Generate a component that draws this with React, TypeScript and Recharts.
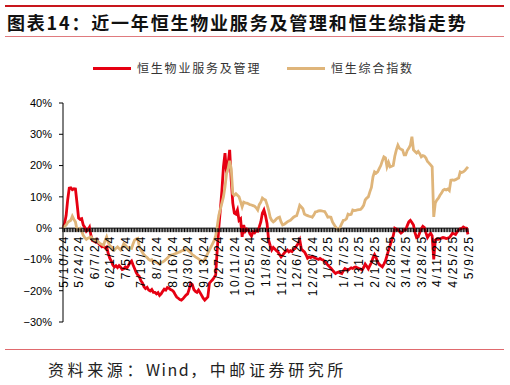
import React from "react";
import { LineChart, Line, XAxis, YAxis, ReferenceLine } from "recharts";

const TITLE = "图表14：近一年恒生物业服务及管理和恒生综指走势";
const SOURCE_A = "资料来源：";
const SOURCE_B = "Wind";
const SOURCE_C = "，中邮证券研究所";

const seriesNames = ["恒生物业服务及管理", "恒生综合指数"];
const seriesColors = ["#E60012", "#DFB57A"];

const yTicks = [-30, -20, -10, 0, 10, 20, 30, 40];

// biweekly labels shown under the zero line
const xTickLabels = [
  "5/10/24", "5/24/24", "6/7/24", "6/21/24", "7/5/24", "7/19/24", "8/2/24",
  "8/16/24", "8/30/24", "9/13/24", "9/27/24", "10/11/24", "10/25/24", "11/8/24",
  "11/22/24", "12/6/24", "12/20/24", "1/3/25", "1/17/25", "1/31/25", "2/14/25",
  "2/28/25", "3/14/25", "3/28/25", "4/11/25", "4/25/25", "5/9/25",
];

// % change since 5/10/24, one value per weekday
const propertyMgmt = [
  0, 1.5, 4, 9, 12.8, 12.9, 12.3, 12.6, 12.5, 8,
  3.2, 2.8, 3, 1, 0.2, -1, -0.5, 0.3, -2.5, -4,
  -4.2, -4.5, -3.8, -5, -5.4, -6, -5.8, -6.3, -6, -8,
  -9.6, -10.5, -11.8, -12.4, -12, -12.6, -12, -12.5, -13.2, -13,
  -12.4, -12.8, -12, -11, -10.5, -11.8, -13, -14.2, -15, -15.5,
  -16.8, -17.5, -18.7, -19.3, -18.9, -19.8, -20.1, -19.6, -20.5, -20.5,
  -21, -20.6, -21.5, -21, -20.2, -19.5, -19.8, -19, -19.2, -19.6,
  -19.8, -20.3, -21.2, -22, -22.4, -22.8, -23, -22.6, -22, -21.4,
  -21, -19.5, -17.6, -18, -19.6, -20.2, -20.5, -19.8, -20.6, -21.5,
  -22.4, -23, -22.5, -22, -17.6, -17, -16.5, -15.8, -15, -7,
  0, 5.8, 12, 19.6, 24, 17.5, 20.5, 25, 15.3, 8,
  4.8, 4.5, 5.8, 2.5, 3, -2.8, 1, -1, -0.3, -0.5,
  -1.8, -2.5, -1.2, -1.5, -0.8, -1, 0.4, 2, 4.8, 5.8,
  4, 1.5, -3.8, -5.5, -7, -6.2, -6.7, -7.2, -7.6, -8.4,
  -9.2, -8.6, -8, -7.4, -7, -7.6, -7.2, -7.5, -6.8, -6.5,
  -5.6, -4.9, -3.8, -6.6, -7.2, -7.6, -8.5, -9.6, -9.2, -9.4,
  -9, -9.3, -9.6, -9.8, -10, -9.7, -10, -10.2, -10.7, -11.2,
  -11.8, -12.3, -12.8, -13.4, -14, -14.5, -14.2, -14, -14.3, -14.5,
  -13.6, -12.9, -13.2, -13.4, -13, -12.7, -12.9, -12.5, -12.4, -12.7,
  -12.9, -13.1, -13.4, -12.6, -11.5, -12.2, -13, -12, -11, -9.5,
  -8.5, -9.5, -10.8, -11.6, -12, -12.4, -11.5, -10.5, -8.8, -7,
  -5.5, -3.8, -2.5, 0, -0.3, -0.5, -1, -1.6, -1.2, -0.5,
  -0.5, 0.8, 2, 2.5, 1.8, 1, -1.5, -3, -2.8, -1.5,
  -0.2, 0.6, 0.2, -1.5, -3, -2.2, -1.6, -2.5, -10, -3.8,
  -3.5, -3.6, -3.4, -3.2, -3, -3.1, -3.3, -3.2, -3, -2.4,
  -1.6, -1.8, -2, -1.2, -0.6, -0.2, -0.1, 0.4, 0.1, 0,
  -2,
];

const hsComposite = [
  0, 0.5, 1, 1.8, 2.2, 2.5, 3.8, 2.8, 2, -0.6,
  -0.3, 0, -1, -2.3, -3, -3.6, -3.2, -3, -2.8, -3.5,
  -4, -3.6, -4, -4.6, -5, -5.2, -5.5, -4, -2.8, -4.5,
  -5.6, -6, -6.5, -7, -6.4, -6, -6.5, -7, -6.2, -5,
  -5.5, -6, -6.3, -6.4, -6.5, -5, -3.8, -3.5, -3.3, -6,
  -7, -7.8, -8.5, -9, -9.4, -10, -10.3, -10.1, -10.7, -10.6,
  -11, -11.2, -11.5, -11, -10.8, -10.5, -10, -9.6, -9, -8.7,
  -8.5, -8.4, -8.2, -8, -7.8, -7.6, -7.3, -7.1, -7, -6.8,
  -7, -7.4, -7.8, -8.5, -8.8, -9.2, -9.5, -9.8, -10.2, -10.4,
  -10.7, -10, -9, -8, -7, -6, -5, -4, -2.5, 0.5,
  4, 6, 8, 10, 13.2, 17.5, 19, 21.5, 19, 11,
  10.5, 11, 10.5, 10, 8.5, 6.8, 8.3, 8.1, 8, 7.8,
  7.5, 7.4, 7.2, 7, 6.5, 5.8, 7.5, 8.3, 9.6, 9.2,
  9, 7.5, 5.8, 3.5, 2.5, 2, 2.4, 3, 3.3, 3.5,
  2, 1, 1.2, 1.6, 2, 2.3, 2.5, 3, 3.5, 3.8,
  4, 5.5, 7.3, 6.8, 6.2, 4.5, 4.2, 4, 3.8, 3.7,
  3.5, 4.2, 5.2, 5.3, 5.5, 5.6, 5.5, 5.4, 5.3, 4.5,
  3.5, 3.6, 3.5, 2, 1.2, 0.4, -0.2, -0.6, 0.4, 1.5,
  2.5, 2.6, 3, 4.5, 4.3, 4.4, 5.8, 5.6, 5.7, 5.8,
  5.9, 6, 6.5, 7.3, 9, 9.6, 10, 11.6, 13, 16.4,
  18, 17.6, 18, 19, 20, 21.5, 22.8, 22.5, 19.6, 21,
  19.6, 19.8, 20, 23, 25, 26.5, 25.5, 25.2, 25, 23.4,
  23.4, 24.8, 25.5, 26.5, 29.2, 25, 24.5, 24, 24.5, 23.8,
  22.8, 23.2, 23, 22.4, 21.3, 20.8, 20.2, 19.6, 3.6, 8,
  9, 9.6, 10.5, 11.2, 12.1, 12.4, 12.2, 12.5, 12, 15.3,
  15.4, 15.3, 15.5, 15.8, 16, 18, 17.8, 18, 18.4, 19,
  19.6,
];

// weekday categories starting 5/10/24
const days: string[] = [];
{
  const d = new Date(Date.UTC(2024, 4, 10));
  while (days.length < propertyMgmt.length) {
    const wd = d.getUTCDay();
    if (wd !== 0 && wd !== 6) {
      days.push(`${d.getUTCMonth() + 1}/${d.getUTCDate()}/${String(d.getUTCFullYear()).slice(2)}`);
    }
    d.setUTCDate(d.getUTCDate() + 1);
  }
}

const data = days.map((day, i) => ({
  day,
  pm: propertyMgmt[i],
  hs: hsComposite[i],
}));

const W = 510;
const H = 385;
const M = { top: 103, right: 42, bottom: 53, left: 0 };
const X_AXIS_H = 10;
const PLOT_H = H - M.top - M.bottom - X_AXIS_H;
// pixel row of the 0% line, where the category ticks hang
const ZERO_Y = M.top + (PLOT_H * 40) / 70;

const labelSet = new Set(xTickLabels);
const cjk = '"Noto Sans CJK SC", "Noto Sans", sans-serif';
const latin = '"Liberation Sans", Arial, sans-serif';

function DayTick({ x, payload }: any) {
  const show = labelSet.has(payload.value);
  return (
    <g>
      <line x1={x} x2={x} y1={ZERO_Y} y2={ZERO_Y + 4} stroke="#000" strokeWidth={1} />
      {show && (
        <text
          transform={`translate(${x + 4.5},${ZERO_Y + 7}) rotate(-90)`}
          textAnchor="end"
          fontSize={12}
          letterSpacing={1.8}
          fontFamily={latin}
          fill="#000"
        >
          {payload.value}
        </text>
      )}
    </g>
  );
}

const fmtPct = (v: number) => `${v < 0 ? "\u2212" : ""}${Math.abs(v)}%`;

export default function App() {
  return (
    <div style={{ position: "absolute", left: 0, top: 0, width: W, height: H, background: "#fff" }}>
      {/* rules */}
      <div style={{ position: "absolute", left: 5, top: 5, width: 499, height: 2, background: "#C8161D" }} />
      <div style={{ position: "absolute", left: 5, top: 36, width: 499, height: 1, background: "#E07A7E" }} />
      <div style={{ position: "absolute", left: 5, top: 349, width: 499, height: 1, background: "#E06A6E" }} />

      <div
        style={{
          position: "absolute", left: 7, top: 13, fontFamily: cjk, fontWeight: 700,
          fontSize: 18, lineHeight: "18px", letterSpacing: 1.8, color: "#111", whiteSpace: "nowrap",
        }}
      >
        {TITLE}
      </div>

      {/* legend */}
      {seriesNames.map((name, i) => (
        <div key={name} style={{ position: "absolute", left: i === 0 ? 93 : 287, top: 61, height: 14, display: "flex", alignItems: "center" }}>
          <div style={{ width: 38, height: 3, background: seriesColors[i] }} />
          <span style={{ marginLeft: 6, fontFamily: cjk, fontSize: 12, lineHeight: "14px", letterSpacing: 1.8, color: "#333", whiteSpace: "nowrap" }}>
            {name}
          </span>
        </div>
      ))}

      <div
        style={{
          position: "absolute", left: 48, top: 361, fontFamily: cjk, fontSize: 16, lineHeight: "16px",
          letterSpacing: 3.6, color: "#222", whiteSpace: "nowrap",
        }}
      >
        {SOURCE_A}
        <span style={{ letterSpacing: 1.5 }}>{SOURCE_B}</span>
        {SOURCE_C}
      </div>

      <div style={{ position: "absolute", left: 0, top: 0 }}>
        <LineChart width={W} height={H} data={data} margin={M}>
          <XAxis
            dataKey="day"
            height={X_AXIS_H}
            interval={0}
            axisLine={false}
            tickLine={false}
            tick={<DayTick />}
          />
          <YAxis
            width={63}
            domain={[-30, 40]}
            ticks={yTicks}
            tickFormatter={fmtPct}
            axisLine={{ stroke: "#000" }}
            tickLine={{ stroke: "#000" }}
            tickSize={4}
            tickMargin={7}
            tick={{ fontSize: 11, fill: "#000", fontFamily: latin }}
          />
          <ReferenceLine y={0} stroke="#000" strokeWidth={1} />
          <Line
            dataKey="pm"
            name={seriesNames[0]}
            stroke={seriesColors[0]}
            strokeWidth={2.8}
            dot={false}
            type="linear"
            isAnimationActive={false}
          />
          <Line
            dataKey="hs"
            name={seriesNames[1]}
            stroke={seriesColors[1]}
            strokeWidth={2.8}
            dot={false}
            type="linear"
            isAnimationActive={false}
          />
        </LineChart>
      </div>
    </div>
  );
}
